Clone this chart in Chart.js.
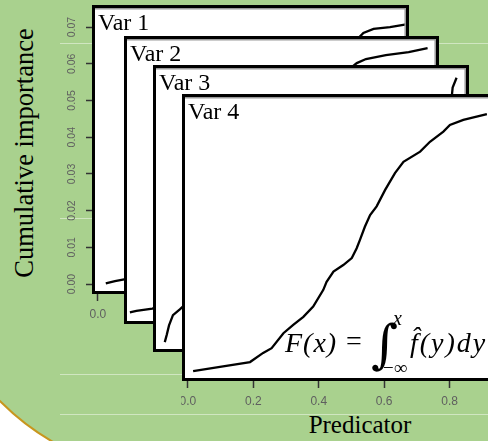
<!DOCTYPE html>
<html>
<head>
<meta charset="utf-8">
<script src="https://cdn.jsdelivr.net/npm/chart.js@4.4.1/dist/chart.umd.min.js"></script>
<style>
    html, body { margin: 0; padding: 0; background: #fff; }
    #stage { position: relative; width: 488px; height: 441px; overflow: hidden; background: #fff; }
    #bg {
        position: absolute; left: -73px; top: -10px; width: 620px; height: 486px;
        box-sizing: border-box; background: #a9d18e;
        border: 2px solid #c8961e; border-bottom-left-radius: 250px;
    }
    .streak { position: absolute; left: 60px; width: 430px; height: 1px; background: rgba(255, 255, 255, 0.45); }
    canvas { position: absolute; top: 0; }
    .title { position: absolute; font-family: "Liberation Serif", serif; color: #000; white-space: nowrap; text-align: center; }
</style>
</head>
<body>
<div id="stage">
    <div id="bg"></div>
    <div class="streak" style="top:43px"></div>
    <div class="streak" style="top:218px"></div>
    <div class="streak" style="top:374px"></div>
    <div class="streak" style="top:414px"></div>
    <div class="title" style="left:-126px; top:140px; width:300px; height:26px; line-height:26px; font-size:26.5px; transform:rotate(-90deg);">Cumulative importance</div>
    <div class="title" style="left:260px; top:412px; width:200px; line-height:26px; font-size:25px;">Predicator</div>
    <canvas id="p1" width="488" height="441" style="left:0"></canvas>
    <canvas id="p2" width="488" height="441" style="left:0"></canvas>
    <canvas id="p3" width="488" height="441" style="left:0"></canvas>
    <canvas id="p4" width="340" height="441" style="left:181px"></canvas>
</div>
<script>
// tick values and labels
const yTickValues = [0, 0.01, 0.02, 0.03, 0.04, 0.05, 0.06, 0.07];
const yTickLabels = ["0.00", "0.01", "0.02", "0.03", "0.04", "0.05", "0.06", "0.07"];
const xTickValues = [0, 0.2, 0.4, 0.6, 0.8];
const xTickLabels = ["0.0", "0.2", "0.4", "0.6", "0.8"];
const panelNames = ["Var 1", "Var 2", "Var 3", "Var 4"];

// cumulative importance curves (hidden middles estimated)
const var1X = [0.024, 0.052, 0.088, 0.2, 0.35, 0.5, 0.65, 0.791, 0.809, 0.84, 0.89, 0.944];
const var1Y = [0.0002, 0.0008, 0.0014, 0.006, 0.02, 0.04, 0.058, 0.0667, 0.0684, 0.0695, 0.0700, 0.0708];

const var2X = [0.0, 0.02, 0.069, 0.15, 0.3, 0.45, 0.58, 0.678, 0.696, 0.724, 0.785, 0.855, 0.913];
const var2Y = [0.0005, 0.0009, 0.0015, 0.004, 0.015, 0.035, 0.055, 0.0673, 0.0686, 0.0697, 0.0708, 0.0716, 0.0727];

const var3X = [0.018, 0.024, 0.031, 0.043, 0.064, 0.2, 0.4, 0.6, 0.8, 0.895, 0.898, 0.91];
const var3Y = [0.0, 0.002, 0.0046, 0.0074, 0.009, 0.02, 0.035, 0.05, 0.062, 0.067, 0.0698, 0.0725];

const var4X = [0.016, 0.098, 0.19, 0.23, 0.256, 0.292, 0.322, 0.353, 0.383, 0.414, 0.424, 0.445, 0.475, 0.501, 0.516,
    0.526, 0.541, 0.557, 0.577, 0.603, 0.633, 0.659, 0.71, 0.74, 0.781, 0.801, 0.842, 0.914];
const var4Y = [0.0, 0.0012, 0.0025, 0.005, 0.0063, 0.0104, 0.0127, 0.0149, 0.0177, 0.0223, 0.0245, 0.0273, 0.0291, 0.031, 0.0337,
    0.036, 0.0396, 0.0428, 0.0452, 0.0497, 0.0543, 0.0574, 0.0602, 0.0629, 0.0657, 0.0675, 0.0689, 0.0705];

const curvesX = [var1X, var2X, var3X, var4X];
const curvesY = [var1Y, var2Y, var3Y, var4Y];

// white plot box with thick black frame, panel label, optional rotated y labels and formula
const panelPlugin = {
    id: "panel",
    beforeDraw(chart) {
        const { ctx, chartArea: a } = chart;
        ctx.save();
        ctx.fillStyle = "#fff";
        ctx.fillRect(a.left, a.top, a.right - a.left, a.bottom - a.top);
        ctx.restore();
    },
    afterDraw(chart, args, opts) {
        const { ctx, chartArea: a } = chart;
        ctx.save();
        ctx.strokeStyle = "#9a9a9a";
        ctx.lineWidth = 1.5;
        ctx.beginPath();
        ctx.moveTo(a.left + 3, a.top + 3.8);
        ctx.lineTo(a.right - 3.8, a.top + 3.8);
        ctx.lineTo(a.right - 3.8, a.bottom - 3);
        ctx.stroke();
        ctx.strokeStyle = "#000";
        ctx.lineWidth = 3;
        ctx.strokeRect(a.left + 1.5, a.top + 1.5, a.right - a.left - 3, a.bottom - a.top - 3);

        ctx.fillStyle = "#000";
        ctx.font = '24px "Liberation Serif"';
        ctx.textBaseline = "alphabetic";
        ctx.fillText(opts.label, a.left + 6, a.top + 25);

        if (opts.yLabels) {
            const ys = chart.scales.y;
            ctx.fillStyle = "#5f5f5f";
            ctx.font = '10.5px "Liberation Sans"';
            ctx.textAlign = "center";
            ctx.textBaseline = "middle";
            yTickValues.forEach((v, i) => {
                ctx.save();
                ctx.translate(72, ys.getPixelForValue(v));
                ctx.rotate(-Math.PI / 2);
                ctx.fillText(yTickLabels[i], 0, 0);
                ctx.restore();
            });
        }
        if (opts.formula) drawFormula(ctx);
        ctx.restore();
    }
};

function drawFormula(ctx) {
    ctx.save();
    ctx.translate(-181, 0);
    ctx.fillStyle = "#000";
    ctx.textAlign = "left";
    ctx.textBaseline = "alphabetic";
    ctx.font = 'italic 28px "Liberation Serif"';
    ctx.letterSpacing = "1px";
    ctx.fillText("F(x)", 285, 352);
    ctx.letterSpacing = "0px";
    ctx.font = '28px "Liberation Serif"';
    ctx.fillText("=", 346, 350);
    ctx.font = '52px "DejaVu Serif"';
    ctx.fillText("\u222B", 371, 362);
    ctx.font = 'italic 20px "Liberation Serif"';
    ctx.fillText("x", 393, 325);
    ctx.font = '19px "Liberation Serif"';
    ctx.fillText("\u2212\u221E", 383, 374);
    ctx.font = 'italic 28px "Liberation Serif"';
    ctx.letterSpacing = "2px";
    ctx.fillText("f\u0302(y)dy", 410, 352);
    ctx.restore();
}

// frame placement of each panel: padding around the plot area, axis box sizes
const panelPads = [
    { left: 0, top: 5, right: 79, bottom: 0 },
    { left: 124, top: 36, right: 49, bottom: 117 },
    { left: 153, top: 65, right: 19, bottom: 89 },
    { left: 1, top: 94, right: 23, bottom: 0 },
];
const showX = [true, false, false, true];
const showY = [true, false, false, false];
const xBoxHeight = [147, 0, 0, 60];
const yBoxWidth = [92, 0, 0, 0];

function makePanel(i) {
    const ctx = document.getElementById("p" + (i + 1)).getContext("2d");
    const points = curvesX[i].map((x, k) => ({ x: x, y: curvesY[i][k] }));
    return new Chart(ctx, {
        type: "line",
        data: {
            datasets: [{
                data: points,
                borderColor: "#000",
                borderWidth: 2.3,
                pointRadius: 0,
                tension: 0,
            }],
        },
        options: {
            responsive: false,
            animation: false,
            layout: { padding: panelPads[i] },
            plugins: {
                legend: { display: false },
                tooltip: { enabled: false },
                panel: { label: panelNames[i], yLabels: showY[i], formula: i === 3 },
            },
            scales: {
                x: {
                    type: "linear",
                    display: showX[i],
                    min: -0.018,
                    max: 0.948,
                    afterBuildTicks: (s) => { s.ticks = xTickValues.map((v) => ({ value: v })); },
                    afterFit: (s) => { s.height = xBoxHeight[i]; s.paddingLeft = 0; s.paddingRight = 0; },
                    grid: { drawOnChartArea: false, drawTicks: true, tickLength: 7, tickColor: "#333", tickWidth: 1.5 },
                    border: { display: false },
                    ticks: {
                        maxRotation: 0,
                        autoSkip: false,
                        padding: 6,
                        color: "#5f5f5f",
                        font: { family: "Liberation Sans", size: 12 },
                        callback: (v, idx) => xTickLabels[idx],
                    },
                },
                y: {
                    type: "linear",
                    display: showY[i],
                    min: -0.0027,
                    max: 0.076,
                    afterBuildTicks: (s) => { s.ticks = yTickValues.map((v) => ({ value: v })); },
                    afterFit: (s) => { s.width = yBoxWidth[i]; s.paddingTop = 0; s.paddingBottom = 0; },
                    grid: { drawOnChartArea: false, drawTicks: true, tickLength: 6, tickColor: "#333", tickWidth: 1.5 },
                    border: { display: false },
                    ticks: { display: false },
                },
            },
        },
        plugins: [panelPlugin],
    });
}

[0, 1, 2, 3].forEach(makePanel);
</script>
</body>
</html>
